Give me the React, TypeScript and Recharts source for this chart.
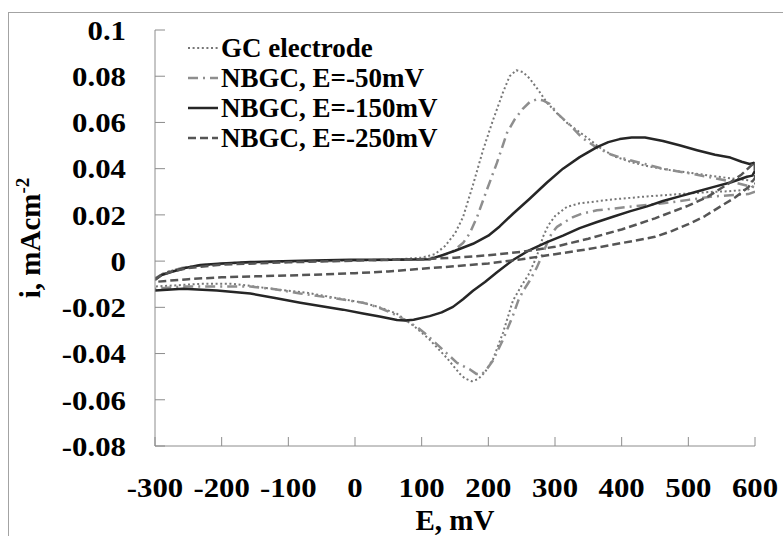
import { LineChart, Line, XAxis, YAxis } from 'recharts';

// Potential / current pairs (forward scan then reverse)
const gcE = [-300, -285, -260, -230, -180, -100, 0, 60, 100, 120, 135, 150, 162, 177, 192, 207, 222, 232, 242, 252, 262, 275, 288, 303, 318, 335, 350, 370, 390, 415, 440, 470, 500, 537, 570, 590, 600,
  600, 590, 560, 537, 487, 438, 387, 337, 318, 300, 290, 282, 275, 268, 260, 250, 237, 222, 207, 195, 185, 175, 165, 158, 148, 138, 125, 112, 88, 63, 35, 12, -37, -70, -108, -150, -183, -230, -270, -300];
const gcI = [-0.0075, -0.005, -0.003, -0.0018, -0.0008, -0.0002, 0.0003, 0.0007, 0.0015, 0.003, 0.0065, 0.012, 0.019, 0.033, 0.048, 0.061, 0.073, 0.08, 0.0826, 0.0818, 0.079, 0.074, 0.0685, 0.064, 0.0598, 0.0562, 0.053, 0.0485, 0.0452, 0.0428, 0.041, 0.0395, 0.0383, 0.0368, 0.0356, 0.035, 0.034,
  0.033, 0.031, 0.0302, 0.03, 0.029, 0.028, 0.0267, 0.025, 0.0235, 0.0195, 0.0155, 0.0105, 0.004, -0.001, -0.006, -0.0105, -0.017, -0.031, -0.0425, -0.048, -0.051, -0.052, -0.0508, -0.049, -0.0455, -0.042, -0.038, -0.034, -0.028, -0.0228, -0.0198, -0.018, -0.0155, -0.0138, -0.0126, -0.011, -0.0098, -0.0098, -0.0105, -0.011];

const e50E = [-300, -285, -260, -230, -180, -100, 0, 60, 100, 125, 145, 162, 172, 183, 198, 213, 228, 240, 252, 262, 273, 282, 292, 305, 322, 340, 363, 385, 408, 435, 462, 513, 563, 590, 600,
  600, 590, 563, 537, 500, 462, 412, 363, 340, 327, 315, 303, 295, 290, 282, 273, 262, 252, 245, 237, 222, 207, 197, 190, 182, 173, 163, 153, 138, 123, 108, 93, 63, 35, 12, -33, -82, -120, -157, -207, -258, -300];
const e50I = [-0.0075, -0.005, -0.003, -0.0018, -0.0008, -0.0002, 0.0003, 0.0006, 0.0009, 0.0018, 0.0038, 0.0078, 0.012, 0.019, 0.031, 0.0426, 0.0555, 0.0615, 0.066, 0.0688, 0.07, 0.0695, 0.068, 0.0635, 0.059, 0.0535, 0.049, 0.046, 0.044, 0.042, 0.04, 0.0374, 0.0345, 0.0325, 0.032,
  0.03, 0.029, 0.0285, 0.028, 0.0265, 0.025, 0.0235, 0.022, 0.0205, 0.019, 0.017, 0.0148, 0.012, 0.009, 0.0035, -0.0026, -0.0085, -0.013, -0.017, -0.0235, -0.034, -0.043, -0.047, -0.049, -0.0488, -0.047, -0.0455, -0.044, -0.04, -0.036, -0.032, -0.0285, -0.0235, -0.02, -0.018, -0.016, -0.014, -0.0122, -0.011, -0.011, -0.011, -0.012];

const e150E = [-300, -290, -277, -255, -232, -200, -157, -80, -7, 60, 112, 130, 150, 177, 200, 217, 237, 262, 288, 312, 337, 363, 380, 397, 415, 435, 462, 488, 513, 540, 563, 580, 592, 598, 600,
  600, 596, 588, 563, 537, 512, 487, 462, 438, 412, 387, 362, 337, 312, 288, 262, 237, 213, 195, 177, 162, 147, 130, 112, 88, 75, 63, 37, 12, -18, -50, -82, -120, -157, -207, -258, -300];
const e150I = [-0.008, -0.006, -0.0048, -0.003, -0.0017, -0.001, -0.0004, 0.0002, 0.0006, 0.0006, 0.0008, 0.0025, 0.0045, 0.0075, 0.011, 0.015, 0.0205, 0.027, 0.034, 0.04, 0.045, 0.0493, 0.0515, 0.0528, 0.0535, 0.0535, 0.052, 0.05, 0.048, 0.046, 0.0448, 0.043, 0.042, 0.0425, 0.0415,
  0.039, 0.037, 0.0365, 0.034, 0.032, 0.03, 0.028, 0.026, 0.0237, 0.0215, 0.0192, 0.0168, 0.0143, 0.011, 0.0082, 0.0048, 0.0005, -0.0048, -0.009, -0.0128, -0.0165, -0.0198, -0.0222, -0.0238, -0.0254, -0.0257, -0.0255, -0.024, -0.0227, -0.021, -0.0195, -0.018, -0.016, -0.014, -0.0127, -0.012, -0.0127];

const e250E = [-300, -290, -275, -250, -200, -100, 0, 100, 150, 200, 250, 300, 350, 400, 450, 500, 530, 560, 580, 595, 600,
  600, 590, 570, 550, 525, 500, 475, 450, 400, 350, 300, 250, 200, 150, 100, 50, 0, -50, -100, -150, -200, -250, -280, -300];
const e250I = [-0.008, -0.006, -0.0045, -0.003, -0.0015, -0.0005, 0.0002, 0.0008, 0.0015, 0.0025, 0.004, 0.0062, 0.0097, 0.0137, 0.0185, 0.024, 0.028, 0.0335, 0.0375, 0.0415, 0.0428,
  0.036, 0.032, 0.0275, 0.024, 0.0195, 0.016, 0.013, 0.0105, 0.0078, 0.0052, 0.003, 0.0008, -0.001, -0.0022, -0.0033, -0.0045, -0.0052, -0.0058, -0.0062, -0.0066, -0.007, -0.0078, -0.0085, -0.009];

const xTicks = [-300, -200, -100, 0, 100, 200, 300, 400, 500, 600];
const yTicks = [-0.08, -0.06, -0.04, -0.02, 0, 0.02, 0.04, 0.06, 0.08, 0.1];

const toPoints = (es: number[], is: number[]) => es.map((E, k) => ({ E, i: is[k] }));

const series = [
  { name: 'GC electrode', data: toPoints(gcE, gcI), color: '#777777', width: 2, dash: '2 2.6' },
  { name: 'NBGC, E=-50mV', data: toPoints(e50E, e50I), color: '#8e8e8e', width: 2.5, dash: '10 5 2 5' },
  { name: 'NBGC, E=-150mV', data: toPoints(e150E, e150I), color: '#262626', width: 2.5, dash: undefined },
  { name: 'NBGC, E=-250mV', data: toPoints(e250E, e250I), color: '#555555', width: 2.5, dash: '8 4' },
];

const FONT = '"Liberation Serif", serif';

const YTick = ({ y, payload }: any) => (
  <text transform={`translate(126,${y}) scale(1.1,1)`} textAnchor="end" dy="0.35em"
    fontFamily={FONT} fontWeight="bold" fontSize={28} fill="#000">
    {String(payload.value)}
  </text>
);

const XTick = ({ x, payload }: any) => (
  <text transform={`translate(${x},487) scale(1.1,1)`} textAnchor="middle" dy="0.35em"
    fontFamily={FONT} fontWeight="bold" fontSize={28} fill="#000">
    {String(payload.value)}
  </text>
);

// legend drawn as a plain overlay so it doesn't shrink the plot area
const ChartLegend = () => (
  <div style={{ position: 'absolute', left: 187, top: 33, fontFamily: FONT, fontWeight: 'bold', fontSize: 27, color: '#000' }}>
    {series.map((s) => (
      <div key={s.name} style={{ display: 'flex', alignItems: 'center', height: 30, whiteSpace: 'nowrap' }}>
        <svg width={34} height={30} style={{ display: 'block' }}>
          <line x1={1} y1={15} x2={31} y2={15} stroke={s.color} strokeWidth={s.width} strokeDasharray={s.dash} />
        </svg>
        <span style={{ lineHeight: '30px' }}>{s.name}</span>
      </div>
    ))}
  </div>
);

export default function App() {
  return (
    <div style={{ position: 'relative', width: 783, height: 536, background: '#fff' }}>
      <style>{'body{margin:0;overflow:hidden}'}</style>
      <div style={{ position: 'absolute', left: 8, top: 12, right: 0, bottom: 0, borderLeft: '1px solid #a3a3a3', borderTop: '1px solid #a3a3a3' }} />
      <div style={{ position: 'absolute', left: 0, top: 0 }}>
        <LineChart width={783} height={536} margin={{ top: 30, right: 28, bottom: 0, left: 0 }}>
          <XAxis type="number" dataKey="E" domain={[-300, 600]} ticks={xTicks} allowDataOverflow
            height={90} stroke="#8c8c8c" tickSize={-9} tick={<XTick />} interval={0}
            label={{
              content: ({ viewBox }: any) => (
                <text x={viewBox.x + viewBox.width / 2} y={530} textAnchor="middle"
                  fontFamily={FONT} fontWeight="bold" fontSize={29} fill="#000">E, mV</text>
              ),
            }} />
          <YAxis type="number" dataKey="i" domain={[-0.08, 0.1]} ticks={yTicks} allowDataOverflow
            width={155} stroke="#8c8c8c" tickSize={-10} tick={<YTick />} interval={0}
            label={{
              content: ({ viewBox }: any) => {
                const cy = viewBox.y + viewBox.height / 2;
                return (
                  <text x={40} y={cy} transform={`rotate(-90,40,${cy})`} textAnchor="middle"
                    fontFamily={FONT} fontWeight="bold" fontSize={29} fill="#000">
                    i, mAcm<tspan dy={-11} fontSize={19}>-2</tspan>
                  </text>
                );
              },
            }} />
          {series.map((s) => (
            <Line key={s.name} data={s.data} dataKey="i" name={s.name} type="linear" stroke={s.color}
              strokeWidth={s.width} strokeDasharray={s.dash} dot={false} activeDot={false}
              isAnimationActive={false} strokeLinejoin="round" />
          ))}
        </LineChart>
      </div>
      <ChartLegend />
    </div>
  );
}
